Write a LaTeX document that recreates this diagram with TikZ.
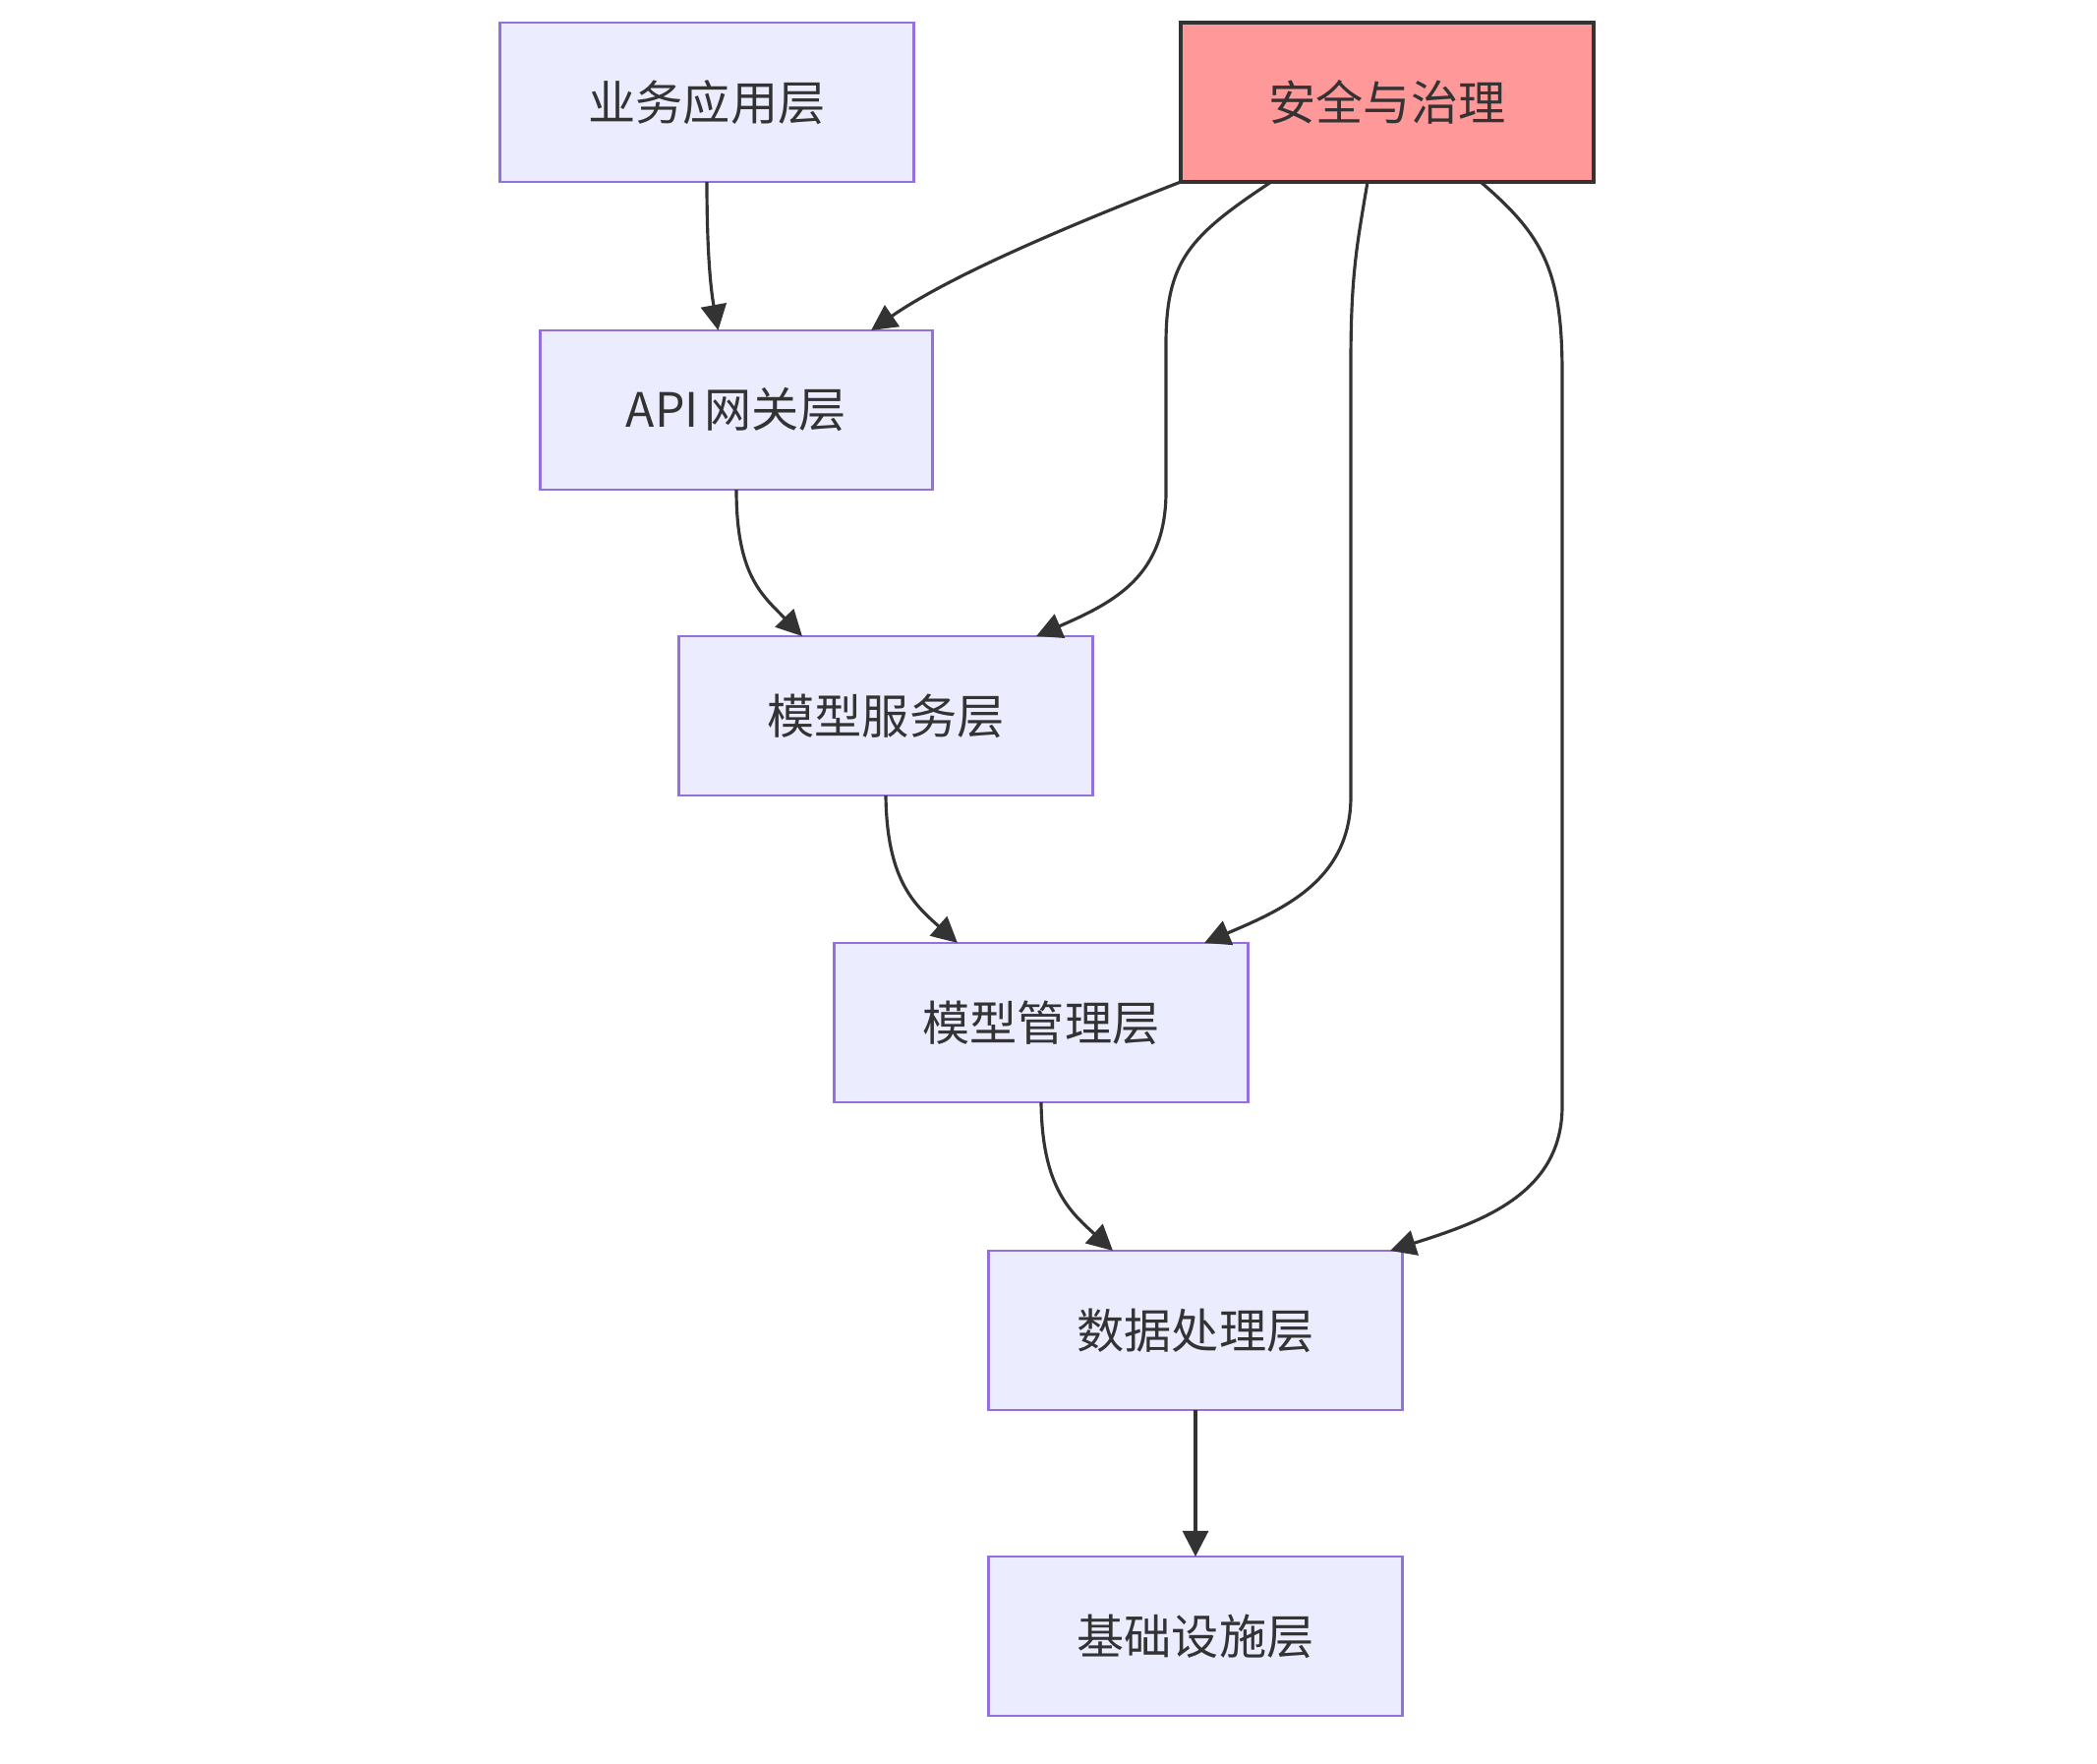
\documentclass[tikz,border=0pt]{standalone}
\usepackage{fontspec}
\newfontfamily\cjk{Noto Sans CJK SC}
\usetikzlibrary{arrows.meta}
\definecolor{boxfill}{HTML}{ECECFF}
\definecolor{boxline}{HTML}{9370DB}
\definecolor{secfill}{HTML}{FF9999}
\definecolor{ink}{HTML}{333333}
\tikzset{
  layer/.style={draw=boxline, fill=boxfill, line width=0.8pt, minimum width=4.2cm, minimum height=1.62cm, inner sep=0pt, outer sep=0pt, text=ink, font=\cjk\fontsize{13.7pt}{16pt}\selectfont},
  secbox/.style={layer, draw=ink, fill=secfill, line width=1pt},
  link/.style={draw=ink, line width=0.9pt, -{Triangle[length=0.26cm,width=0.26cm]}}
}
\begin{document}
\begin{tikzpicture}[x=0.01cm,y=-0.01cm]
\useasboundingbox (0,0) rectangle (2133,1794);
\node[layer] (biz) at (719,104) {业务应用层};
\node[secbox] (sec) at (1411,104) {安全与治理};
\node[layer, minimum width=3.98cm] (api) at (749,417) {API\hspace{0.12em}网关层};
\node[layer] (svc) at (901,728) {模型服务层};
\node[layer] (mgmt) at (1059,1040) {模型管理层};
\node[layer] (data) at (1216,1353) {数据处理层};
\node[layer] (infra) at (1216,1664) {基础设施层};

% main chain
\draw[link] (biz.south) .. controls (719,265) and (724,300) .. ([xshift=-0.185cm]api.north);
\draw[link] (api.south) .. controls (749,585) and (775,605) .. ([xshift=-0.85cm]svc.north);
\draw[link] (svc.south) .. controls (902,895) and (930,920) .. ([xshift=-0.85cm]mgmt.north);
\draw[link] (mgmt.south) .. controls (1060,1207) and (1088,1232) .. ([xshift=-0.84cm]data.north);
\draw[link] (data.south) -- (infra.north);

% security links
\draw[link] (sec.south west) .. controls (1060,240) and (960,285) .. ([xshift=1.37cm]api.north);
\draw[link] ([xshift=-1.18cm]sec.south) .. controls (1210,240) and (1186,265) .. (1186,350)
  -- (1186,500) .. controls (1186,585) and (1135,612) .. ([xshift=1.53cm]svc.north);
\draw[link] ([xshift=-0.2cm]sec.south) .. controls (1380,250) and (1374,280) .. (1374,370)
  -- (1374,810) .. controls (1374,895) and (1305,925) .. ([xshift=1.66cm]mgmt.north);
\draw[link] ([xshift=0.95cm]sec.south) .. controls (1570,240) and (1589,275) .. (1589,380)
  -- (1589,1125) .. controls (1589,1215) and (1505,1243) .. ([xshift=1.98cm]data.north);
\end{tikzpicture}
\end{document}
